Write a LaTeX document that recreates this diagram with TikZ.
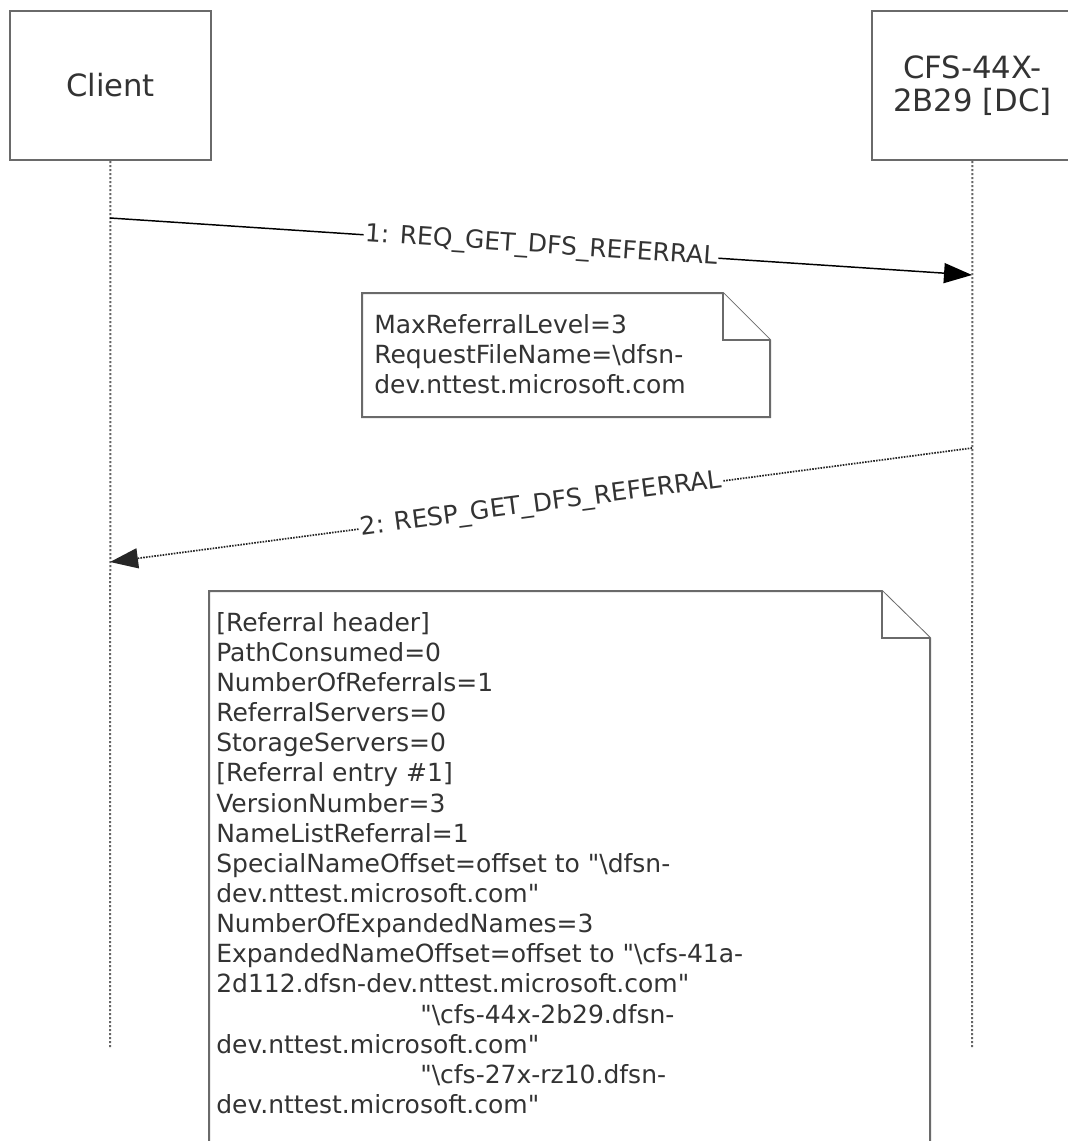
\documentclass[tikz,border=0pt]{standalone}
\usepackage{fontspec}
\newfontfamily\diag{DejaVu Sans}
\usetikzlibrary{arrows.meta}

\definecolor{ink}{HTML}{333333}
\definecolor{frame}{HTML}{6A6A6A}

\begin{document}
\begin{tikzpicture}[x=0.75pt,y=-0.75pt,
    lifeline/.style={draw=black!60, line width=1.5pt, dash pattern=on 1.5pt off 1.5pt},
    call/.style={draw=black, line width=1.1pt, -{Triangle[length=21pt,width=15pt]}},
    reply/.style={draw=black!85, line width=1.3pt, dash pattern=on 1.2pt off 0.9pt, -{Triangle[length=21pt,width=15pt]}},
    note/.style={draw=frame, line width=1.5pt, fill=white, line join=miter}]

  \useasboundingbox (0,0) rectangle (1067,1141);

  % participants
  \begin{scope}[every node/.style={draw=frame, line width=1.8pt, fill=white, text=ink,
      minimum width=150.75pt, minimum height=111.75pt, align=center,
      font=\diag\fontsize{23}{24.75}\selectfont}]
    \node (client) at (110.5,85.5) {Client};
    \node (dc)     at (972.5,85.5) {CFS-44X-\\2B29 [DC]};
  \end{scope}

  \coordinate (clientend) at (110,1048);
  \coordinate (dcend)     at (972,1048);
  \path (client) edge[lifeline] (clientend);
  \path (dc)     edge[lifeline] (dcend);

  % messages
  \coordinate (m1a) at (110,218);
  \coordinate (m1b) at (972,275);
  \coordinate (m2a) at (972,448);
  \coordinate (m2b) at (110,562);

  \begin{scope}[every node/.style={fill=white, text=ink, inner sep=1pt, sloped,
      font=\diag\fontsize{18.75}{22.5}\selectfont}]
    \path (m1a) edge[call]  node {1: REQ\_GET\_DFS\_REFERRAL} (m1b);
    \path (m2a) edge[reply] node {2: RESP\_GET\_DFS\_REFERRAL} (m2b);
  \end{scope}

  % notes
  \draw[note] (362,293) -- (723,293) -- (770,340) -- (770,417) -- (362,417) -- cycle;
  \draw[note] (723,293) -- (723,340) -- (770,340);

  \draw[note] (209,591) -- (882,591) -- (930,638) -- (930,1160) -- (209,1160) -- cycle;
  \draw[note] (882,591) -- (882,638) -- (930,638);

  \begin{scope}[every node/.style={anchor=north west, inner sep=0pt, align=left, text=ink,
      font=\diag\fontsize{18.75}{22.6}\selectfont}]
    \node (req) at (374,314) {MaxReferralLevel=3\\
      RequestFileName=\textbackslash dfsn-\\
      dev.nttest.microsoft.com};
    \node (resp) at (216,612) {{[Referral header]}\\
      PathConsumed=0\\
      NumberOfReferrals=1\\
      ReferralServers=0\\
      StorageServers=0\\
      {[Referral entry \#1]}\\
      VersionNumber=3\\
      NameListReferral=1\\
      SpecialNameOffset=offset to "\textbackslash dfsn-\\
      dev.nttest.microsoft.com"\\
      NumberOfExpandedNames=3\\
      ExpandedNameOffset=offset to "\textbackslash cfs-41a-\\
      2d112.dfsn-dev.nttest.microsoft.com"\\
      \hspace*{153pt}"\textbackslash cfs-44x-2b29.dfsn-\\
      dev.nttest.microsoft.com"\\
      \hspace*{153pt}"\textbackslash cfs-27x-rz10.dfsn-\\
      dev.nttest.microsoft.com"};
  \end{scope}

\end{tikzpicture}
\end{document}
